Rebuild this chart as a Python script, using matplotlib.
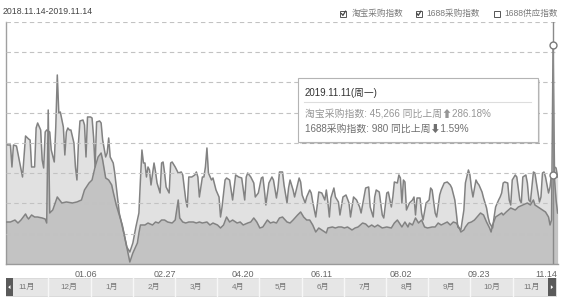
import numpy as np
import matplotlib.pyplot as plt
from matplotlib.patches import Rectangle, Polygon
from matplotlib.lines import Line2D

plt.rcParams['font.family'] = ['Liberation Sans', 'Noto Sans CJK SC', 'DejaVu Sans']

start = np.datetime64('2018-11-14')

# 1688采购指数: days since 2018-11-14 and index value
b2b_day = [0, 1, 3, 4, 5, 7, 11, 13, 15, 16, 17, 19, 20, 21, 23, 24, 25, 26, 27, 29,
           30, 32, 33, 34, 35, 36, 38, 39, 40, 41, 42, 43, 45, 46, 47, 48, 49, 51, 52, 53,
           54, 56, 57, 58, 59, 60, 62, 63, 64, 66, 67, 68, 69, 71, 72, 74, 75, 78, 80, 82,
           84, 86, 88, 89, 90, 91, 92, 93, 94, 95, 96, 98, 99, 100, 102, 103, 104, 105, 106, 108,
           109, 110, 112, 114, 116, 117, 119, 120, 121, 123, 125, 126, 127, 128, 130, 131, 132, 133, 134, 136,
           137, 139, 141, 142, 143, 145, 146, 148, 150, 152, 154, 156, 158, 159, 160, 162, 164, 165, 167, 169,
           170, 171, 172, 174, 176, 177, 179, 180, 181, 183, 184, 186, 187, 188, 190, 191, 194, 195, 196, 198,
           199, 201, 202, 203, 205, 206, 207, 209, 211, 212, 213, 214, 215, 217, 218, 220, 221, 223, 225, 227,
           228, 230, 232, 234, 235, 238, 240, 241, 243, 244, 245, 247, 249, 250, 252, 253, 255, 256, 257, 259,
           260, 261, 262, 263, 264, 265, 267, 269, 270, 271, 272, 274, 275, 276, 278, 280, 281, 282, 284, 285,
           287, 288, 290, 292, 294, 295, 297, 298, 299, 301, 303, 304, 306, 307, 308, 309, 311, 312, 313, 315,
           316, 318, 319, 320, 322, 323, 324, 326, 327, 328, 329, 330, 332, 333, 334, 335, 337, 338, 340, 341,
           342, 344, 345, 346, 347, 349, 350, 351, 353, 354, 355, 356, 357, 359, 360, 361, 362, 363, 364, 365]
b2b_val = [1331, 1309, 1309, 1067, 1309, 1298, 957, 1408, 1375, 1364, 1067, 1067, 1496, 1551, 1474, 1144, 1056, 1452, 1474, 1452,
           1254, 1122, 1507, 2079, 1661, 1672, 1507, 1199, 1452, 1496, 1474, 1474, 1331, 1067, 924, 1331, 1573, 1584, 1529, 1177,
           1617, 1617, 1606, 1397, 1067, 1562, 1573, 1551, 1364, 1177, 1221, 1386, 1177, 1111, 1001, 704, 561, 341, 187, 132,
           231, 407, 561, 924, 1254, 1111, 1111, 957, 1067, 1034, 869, 1111, 1012, 891, 781, 1111, 1122, 1001, 847, 781,
           1111, 1122, 1067, 1001, 1012, 979, 704, 627, 957, 957, 979, 1012, 957, 737, 957, 957, 1067, 1276, 1001, 924,
           946, 814, 737, 517, 627, 924, 946, 924, 704, 979, 957, 946, 704, 957, 1001, 957, 891, 737, 781, 946,
           957, 814, 649, 891, 957, 924, 726, 836, 1012, 1012, 869, 671, 836, 924, 814, 737, 946, 902, 759, 671,
           737, 814, 781, 682, 517, 649, 792, 781, 704, 814, 682, 517, 726, 836, 737, 682, 539, 737, 759, 671,
           517, 737, 704, 627, 561, 836, 847, 627, 517, 737, 814, 792, 539, 506, 781, 792, 627, 737, 902, 891,
           979, 946, 671, 924, 902, 594, 671, 704, 737, 539, 726, 726, 561, 484, 671, 704, 836, 814, 561, 517,
           759, 814, 891, 902, 869, 836, 704, 561, 407, 374, 594, 891, 1034, 979, 836, 737, 924, 891, 869, 792,
           726, 616, 517, 451, 396, 517, 627, 704, 737, 781, 891, 902, 891, 704, 649, 924, 979, 957, 704, 671,
           957, 979, 891, 704, 682, 1012, 1001, 891, 682, 737, 1001, 1012, 957, 781, 847, 1001, 980, 1067, 1056, 957]

# 淘宝采购指数
tb_day = [0, 3, 6, 8, 10, 13, 14, 15, 17, 19, 21, 24, 26, 27, 28, 29, 31, 34, 37, 40,
          44, 47, 50, 52, 55, 57, 59, 61, 63, 64, 66, 68, 70, 71, 73, 75, 77, 79, 81, 82,
          84, 87, 88, 89, 92, 94, 97, 99, 101, 103, 105, 107, 110, 112, 114, 115, 117, 119, 121, 124,
          126, 128, 130, 133, 135, 137, 140, 142, 144, 146, 148, 150, 153, 155, 157, 160, 162, 164, 166, 168,
          170, 173, 175, 177, 179, 181, 183, 186, 188, 190, 193, 195, 197, 199, 201, 203, 205, 207, 209, 212,
          213, 216, 218, 220, 222, 224, 226, 229, 231, 233, 236, 238, 240, 242, 244, 246, 249, 252, 255, 257,
          259, 262, 264, 266, 267, 269, 271, 273, 275, 277, 279, 282, 284, 286, 288, 292, 294, 296, 298, 300,
          301, 303, 304, 306, 308, 310, 314, 316, 318, 320, 321, 322, 324, 328, 329, 331, 334, 337, 339, 342,
          345, 347, 349, 350, 352, 355, 357, 359, 360, 361, 362, 363, 364, 365]
tb_val = [8680, 8680, 9090, 8470, 9090, 10340, 9710, 9300, 10130, 9710, 9710, 9510, 9300, 8470, 31830, 10540, 11160, 13850, 12610, 12820,
          12610, 12820, 13230, 15300, 16740, 17360, 20050, 22120, 22940, 21500, 17780, 17360, 16330, 14880, 12200, 10130, 8060, 4960, 1860, 410,
          2270, 4340, 6410, 8060, 8060, 8470, 8060, 8680, 8470, 9090, 9090, 8680, 8470, 9090, 13230, 9510, 8680, 8470, 8680, 8680,
          8470, 8680, 8470, 8680, 8060, 8470, 8060, 7440, 8060, 9710, 8680, 9090, 8470, 8680, 8060, 8470, 8680, 9510, 8680, 7440,
          7650, 9090, 8470, 8680, 8470, 9510, 9710, 8680, 8470, 9090, 10130, 10750, 9710, 9090, 9090, 8060, 6610, 7440, 7030, 6410,
          7440, 7650, 7440, 7650, 7650, 7440, 7650, 7030, 7440, 7650, 8470, 8270, 7650, 8060, 7650, 8060, 7440, 7650, 7440, 8470,
          9090, 7650, 8680, 7650, 8470, 8060, 9510, 8470, 9090, 7650, 7440, 7650, 7650, 8470, 8060, 8680, 8060, 8680, 8470, 7440,
          6610, 7030, 7650, 8470, 8680, 9090, 10540, 10130, 8680, 7440, 6610, 8060, 9710, 10540, 10130, 10750, 11580, 11160, 11780, 12200,
          12610, 12200, 13230, 12200, 11780, 11160, 10750, 9710, 8060, 9090, 45266, 17360, 13230, 10540]

tick_dates = ['2019-01-06', '2019-02-27', '2019-04-20', '2019-06-11', '2019-08-02', '2019-09-23', '2019-11-14']
tick_labels = ['01.06', '02.27', '04.20', '06.11', '08.02', '09.23', '11.14']
months = ['11月', '12月', '1月', '2月', '3月', '4月', '5月', '6月', '7月', '8月', '9月', '10月', '11月']
legend_names = ['淘宝采购指数', '1688采购指数', '1688供应指数']
legend_checked = [True, True, False]
hover_day = 362
hover_title = '2019.11.11(周一)'
hover_lines = ['淘宝采购指数: 45,266 同比上周⬆286.18%', '1688采购指数: 980 同比上周⬇1.59%']

W, H = 562, 303
fig = plt.figure(figsize=(W / 100, H / 100), dpi=100)


def fx(x):
    return x / W


def fy(y):
    return 1 - y / H


ax1 = fig.add_axes([fx(5.9), fy(264), (557.6 - 5.9) / W, (264 - 21.7) / H])
ax2 = ax1.twinx()

b2b_x = start + np.array(b2b_day).astype('timedelta64[D]')
tb_x = start + np.array(tb_day).astype('timedelta64[D]')
hover_x = start + np.timedelta64(hover_day, 'D')

ax1.fill_between(b2b_x, b2b_val, color='#e1e1e1', lw=0)
ax1.plot(b2b_x, b2b_val, color='#828282', lw=1.1)
ax2.fill_between(tb_x, tb_val, color='#777777', alpha=0.28, lw=0, zorder=1)
ax2.plot(tb_x, tb_val, color='#828282', lw=1.1, zorder=2)

# hover crosshair and markers
ax2.axvline(hover_x, color='#8a8a8a', lw=1, zorder=3)
ax2.plot([hover_x], [tb_val[tb_day.index(hover_day)]], 'o', ms=5, mfc='white', mec='#7a7a7a', mew=1, zorder=5)
ax2.plot([hover_x], [b2b_val[b2b_day.index(hover_day)]], 'o', ms=5, mfc='white', mec='#7a7a7a', mew=1,
         zorder=5, transform=ax1.transData)

ax1.set_xlim(start, start + np.timedelta64(365, 'D'))
ax1.set_ylim(0, 2665)
ax2.set_ylim(0, 50080)
ax1.set_yticks([])
ax2.set_yticks(np.linspace(0, 50080, 9))
ax2.set_yticklabels([])
ax1.set_xticks(np.array(tick_dates, dtype='datetime64[D]'), tick_labels)
ax1.tick_params(axis='x', length=0, pad=4.5, labelsize=6.5, labelcolor='#666666')
ax2.tick_params(length=0)
ax1.get_xticklabels()[-1].set_ha('right')

ax2.grid(True, color='#c2c2c2', ls=(0, (4, 3)), lw=0.8)
ax2.set_axisbelow('line')

for s in ['top', 'right']:
    ax1.spines[s].set_visible(False)
for s in ['left', 'bottom']:
    ax1.spines[s].set_color('#a0a0a0')
    ax1.spines[s].set_linewidth(1)
for s in ax2.spines.values():
    s.set_visible(False)

# date range title
fig.text(fx(2.5), fy(11.5), '2018.11.14-2019.11.14', fontsize=6.3, color='#444444', va='center')

# legend with check boxes
box_x = [340.3, 415.7, 494]
text_x = [352, 426, 504]
for bx, tx, name, checked in zip(box_x, text_x, legend_names, legend_checked):
    fig.add_artist(Rectangle((fx(bx), fy(16.7)), 6 / W, 6 / H, transform=fig.transFigure,
                             fc='white', ec='#555555', lw=0.7))
    if checked:
        fig.add_artist(Line2D([fx(bx + 1.2), fx(bx + 2.6), fx(bx + 5.2)], [fy(13.6), fy(15.4), fy(11.2)],
                              transform=fig.transFigure, color='#444444', lw=0.9))
    fig.text(fx(tx), fy(13.7), name, fontsize=6.2, color='#7a7a7a', va='center')

# tooltip
tx0, tx1, ty0, ty1 = 297.7, 537.7, 78.3, 141.7
fig.add_artist(Rectangle((fx(tx0 + 2), fy(ty1 + 2)), (tx1 - tx0) / W, (ty1 - ty0) / H,
                         transform=fig.transFigure, fc='#000000', alpha=0.12, lw=0))
fig.add_artist(Rectangle((fx(tx0), fy(ty1)), (tx1 - tx0) / W, (ty1 - ty0) / H,
                         transform=fig.transFigure, fc='white', ec='#b4b4b4', lw=0.8))
fig.text(fx(305), fy(93.3), hover_title, fontsize=7, color='#333333', va='center')
fig.add_artist(Line2D([fx(304), fx(531)], [fy(102.3), fy(102.3)], transform=fig.transFigure,
                      color='#dddddd', lw=0.8))
fig.text(fx(305), fy(114.3), hover_lines[0], fontsize=7.1, color='#969696', va='center')
fig.text(fx(305), fy(129.3), hover_lines[1], fontsize=7.1, color='#6f6f6f', va='center')

# range navigator
ny0, ny1 = 278.3, 296
fig.add_artist(Rectangle((fx(5.7), fy(ny1)), (556 - 5.7) / W, (ny1 - ny0) / H,
                         transform=fig.transFigure, fc='#e6e6e6', ec='#d6d6d6', lw=0.6))
cell_w = 42.2
edges = [48.3 + k * cell_w for k in range(12)]
for e in edges:
    fig.add_artist(Line2D([fx(e), fx(e)], [fy(ny0), fy(ny1)], transform=fig.transFigure,
                          color='#f7f7f7', lw=1))
centers = [27] + [e + cell_w / 2 for e in edges[:-1]] + [532]
for cx, m in zip(centers, months):
    fig.text(fx(cx), fy((ny0 + ny1) / 2), m, fontsize=5.8, color='#777777', ha='center', va='center')
for hx0, hx1, left in [(5.7, 13.3, True), (547.7, 556, False)]:
    fig.add_artist(Rectangle((fx(hx0), fy(ny1)), (hx1 - hx0) / W, (ny1 - ny0) / H,
                             transform=fig.transFigure, fc='#5a5a5a', lw=0))
    mx, my = (hx0 + hx1) / 2, (ny0 + ny1) / 2
    if left:
        pts = [(mx - 1.3, my), (mx + 1, my - 2), (mx + 1, my + 2)]
    else:
        pts = [(mx + 1.3, my), (mx - 1, my - 2), (mx - 1, my + 2)]
    fig.add_artist(Polygon([(fx(a), fy(b)) for a, b in pts], closed=True,
                           transform=fig.transFigure, fc='white', lw=0))

fig.savefig('out.png', dpi=100)
